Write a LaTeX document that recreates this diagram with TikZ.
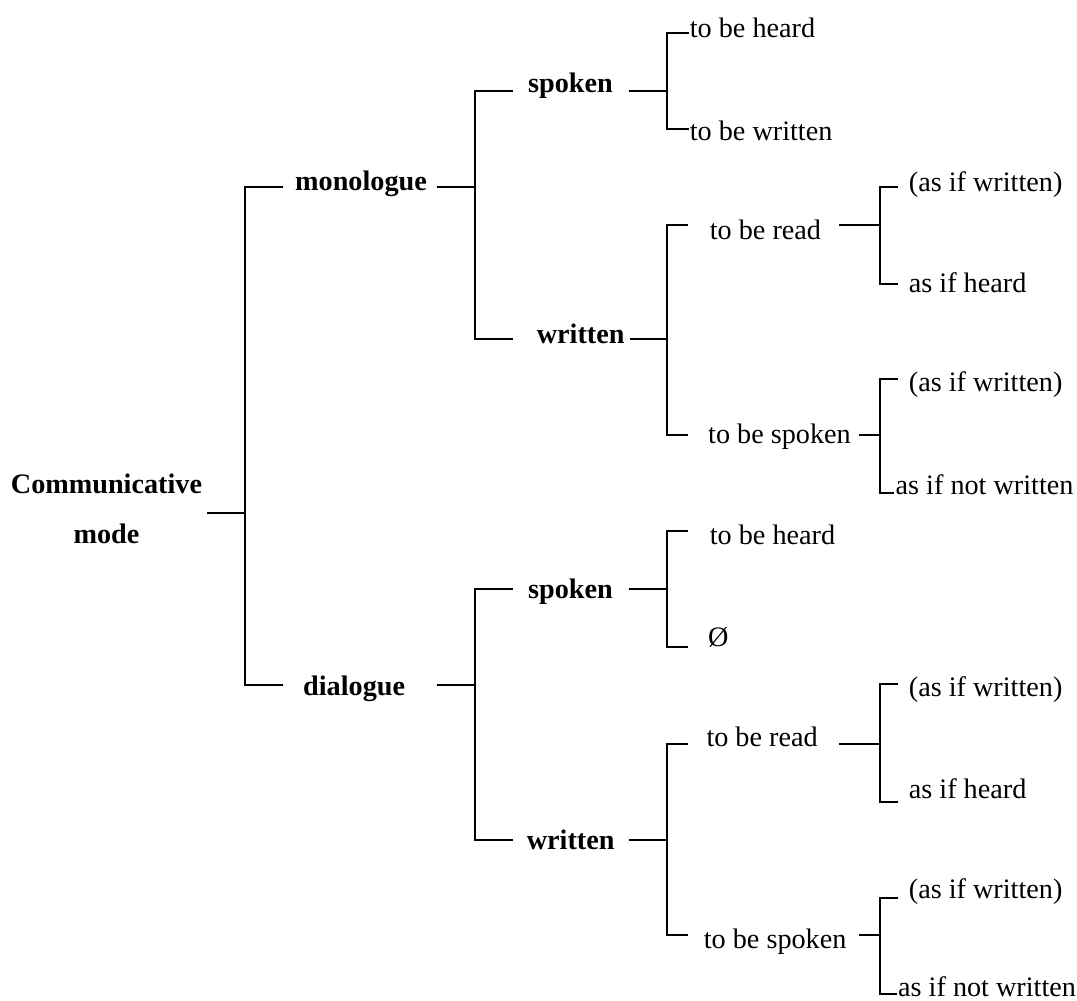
\documentclass[tikz,border=0pt]{standalone}
\usepackage{fontspec}
\setmainfont{Liberation Serif}
\begin{document}
\begin{tikzpicture}[x=1pt,y=-1pt,
  lbl/.style={font=\fontsize{28.2}{34}\selectfont, inner sep=0pt, anchor=base west},
  hd/.style={font=\fontsize{28.2}{34}\selectfont\bfseries, inner sep=0pt, anchor=base west},
  link/.style={line width=1.7pt, line join=miter}]
\useasboundingbox (0,0) rectangle (1077,1001);

% ---- root ----
\node[hd, anchor=base] (root) at (106.5,493) {Communicative};
\node[hd, anchor=base] (rootb) at (106.5,543) {mode};
\coordinate (root-o) at (206.7,513.3);
\coordinate (J0) at (245,513.3);

\node[hd] (mono) at (295,190.7) {monologue};
\node[hd] (dial) at (303,695) {dialogue};
\coordinate (mono-i) at (283,187.3);
\coordinate (dial-i) at (283,685);
\draw[link] (root-o) -- (J0);
\draw[link] (mono-i) -| (J0) |- (dial-i);

% ---- monologue ----
\coordinate (mono-o) at (436.7,187.3);
\coordinate (J1) at (475,187.3);
\node[hd, anchor=base east] (mspk) at (613,92) {spoken};
\node[hd, anchor=base east] (mwri) at (624.7,343) {written};
\coordinate (mspk-i) at (513,90.7);
\coordinate (mwri-i) at (513,339.3);
\draw[link] (mono-o) -- (J1);
\draw[link] (mspk-i) -| (J1) |- (mwri-i);

% monologue / spoken
\coordinate (mspk-o) at (628.7,90.7);
\coordinate (J2) at (667,90.7);
\node[lbl] (m1) at (689.7,37) {to be heard};
\node[lbl] (m2) at (689.7,140) {to be written};
\coordinate (m1-i) at (688.7,32.7);
\coordinate (m2-i) at (688.7,129.3);
\draw[link] (mspk-o) -- (J2);
\draw[link] (m1-i) -| (J2) |- (m2-i);

% monologue / written
\coordinate (mwri-o) at (629.7,339.3);
\coordinate (J3) at (667,339.3);
\node[lbl] (m3) at (709.7,239.5) {to be read};
\node[lbl] (m4) at (708,443) {to be spoken};
\coordinate (m3-i) at (688,225);
\coordinate (m4-i) at (688,435);
\draw[link] (mwri-o) -- (J3);
\draw[link] (m3-i) -| (J3) |- (m4-i);

\coordinate (m3-o) at (839.3,225);
\coordinate (J4) at (880,225);
\node[lbl] (m31) at (908.7,191) {(as if written)};
\node[lbl] (m32) at (908.7,292) {as if heard};
\coordinate (m31-i) at (898,187.3);
\coordinate (m32-i) at (898,283.7);
\draw[link] (m3-o) -- (J4);
\draw[link] (m31-i) -| (J4) |- (m32-i);

\coordinate (m4-o) at (858.7,435);
\coordinate (J5) at (880,435);
\node[lbl] (m41) at (908.7,391) {(as if written)};
\node[lbl] (m42) at (895.5,494) {as if not written};
\coordinate (m41-i) at (898,379);
\coordinate (m42-i) at (894,493.3);
\draw[link] (m4-o) -- (J5);
\draw[link] (m41-i) -| (J5) |- (m42-i);

% ---- dialogue ----
\coordinate (dial-o) at (436.7,685);
\coordinate (J6) at (475,685);
\node[hd, anchor=base east] (dspk) at (613,598) {spoken};
\node[hd, anchor=base east] (dwri) at (614.7,849) {written};
\coordinate (dspk-i) at (513,589.3);
\coordinate (dwri-i) at (513,839.7);
\draw[link] (dial-o) -- (J6);
\draw[link] (dspk-i) -| (J6) |- (dwri-i);

% dialogue / spoken
\coordinate (dspk-o) at (628.7,589.3);
\coordinate (J7) at (667,589.3);
\node[lbl] (d1) at (709.7,544.5) {to be heard};
\node[lbl] (d2) at (708,646.4) {Ø};
\coordinate (d1-i) at (688,531);
\coordinate (d2-i) at (688,647);
\draw[link] (dspk-o) -- (J7);
\draw[link] (d1-i) -| (J7) |- (d2-i);

% dialogue / written
\coordinate (dwri-o) at (628.7,839.7);
\coordinate (J8) at (667,839.7);
\node[lbl] (d3) at (706.3,746.3) {to be read};
\node[lbl] (d4) at (703.7,948.5) {to be spoken};
\coordinate (d3-i) at (688,743.7);
\coordinate (d4-i) at (688,935.3);
\draw[link] (dwri-o) -- (J8);
\draw[link] (d3-i) -| (J8) |- (d4-i);

\coordinate (d3-o) at (839.3,743.7);
\coordinate (J9) at (880,743.7);
\node[lbl] (d31) at (908.7,696) {(as if written)};
\node[lbl] (d32) at (908.7,798) {as if heard};
\coordinate (d31-i) at (898,684.3);
\coordinate (d32-i) at (898,801.7);
\draw[link] (d3-o) -- (J9);
\draw[link] (d31-i) -| (J9) |- (d32-i);

\coordinate (d4-o) at (859.3,935.3);
\coordinate (J10) at (880,935.3);
\node[lbl] (d41) at (908.7,898) {(as if written)};
\node[lbl] (d42) at (898,996.5) {as if not written};
\coordinate (d41-i) at (898,897.7);
\coordinate (d42-i) at (897,994.3);
\draw[link] (d4-o) -- (J10);
\draw[link] (d41-i) -| (J10) |- (d42-i);
\end{tikzpicture}
\end{document}
